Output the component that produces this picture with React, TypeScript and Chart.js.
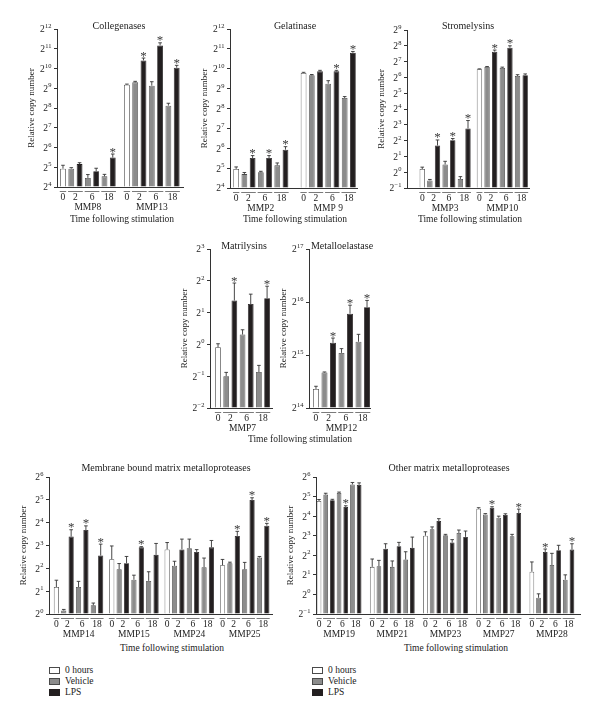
import React, { useEffect, useRef } from 'react';
import { Chart, registerables } from 'chart.js';

Chart.register(...registerables);

const SERIF = "'Liberation Serif', 'DejaVu Serif', serif";

// Shared labels
const TIME_POINTS = ['0', '2', '6', '18'];
const CONDITIONS = ['0 hours', 'Vehicle', 'LPS'];
const Y_TITLE = 'Relative copy number';
const X_TITLE = 'Time following stimulation';
// Bar order within each gene: 0 h, 2 h vehicle, 2 h LPS, 6 h vehicle, 6 h LPS, 18 h vehicle, 18 h LPS
// Values are log2 of relative copy number (axis shows 2^n)

const COLLAGENASE_GENES = ['MMP8', 'MMP13'];
const COLLAGENASE_LOG2 = [
  [4.93, 4.93, 5.16, 4.46, 4.8, 4.54, 5.49],
  [9.18, 9.3, 10.41, 9.13, 11.17, 8.12, 10.04],
];
const COLLAGENASE_ERR = [
  [0.17, 0.05, 0.07, 0.17, 0.15, 0.1, 0.18],
  [0.03, 0.05, 0.12, 0.2, 0.13, 0.12, 0.12],
];
const COLLAGENASE_SIG = [
  [0, 0, 0, 0, 0, 0, 1],
  [0, 0, 1, 0, 1, 0, 1],
];

const GELATINASE_GENES = ['MMP2', 'MMP 9'];
const GELATINASE_LOG2 = [
  [4.96, 4.7, 5.51, 4.79, 5.51, 5.14, 5.93],
  [9.79, 9.67, 9.87, 9.25, 9.87, 8.53, 10.8],
];
const GELATINASE_ERR = [
  [0.1, 0.08, 0.12, 0.05, 0.12, 0.12, 0.15],
  [0.03, 0.04, 0.05, 0.15, 0.05, 0.07, 0.07],
];
const GELATINASE_SIG = [
  [0, 0, 1, 0, 1, 0, 1],
  [0, 0, 0, 0, 1, 0, 1],
];

const STROMELYSIN_GENES = ['MMP3', 'MMP10'];
const STROMELYSIN_LOG2 = [
  [0.2, -0.52, 1.69, 0.49, 2.03, -0.43, 2.77],
  [6.52, 6.66, 7.63, 6.6, 7.88, 6.09, 6.14],
];
const STROMELYSIN_ERR = [
  [0.12, 0.06, 0.35, 0.2, 0.1, 0.15, 0.5],
  [0.02, 0.03, 0.1, 0.05, 0.12, 0.08, 0.08],
];
const STROMELYSIN_SIG = [
  [0, 0, 1, 0, 1, 0, 1],
  [0, 0, 1, 0, 1, 0, 0],
];

const MATRILYSIN_GENES = ['MMP7'];
const MATRILYSIN_LOG2 = [[-0.09, -1.0, 1.38, 0.31, 1.27, -0.87, 1.45]];
const MATRILYSIN_ERR = [[0.11, 0.12, 0.55, 0.15, 0.31, 0.21, 0.38]];
const MATRILYSIN_SIG = [[0, 0, 1, 0, 0, 0, 1]];

const ELASTASE_GENES = ['MMP12'];
const ELASTASE_LOG2 = [[14.36, 14.67, 15.23, 15.04, 15.78, 15.25, 15.9]];
const ELASTASE_ERR = [[0.05, 0.01, 0.09, 0.08, 0.16, 0.14, 0.13]];
const ELASTASE_SIG = [[0, 0, 1, 0, 1, 0, 1]];

const MEMBRANE_GENES = ['MMP14', 'MMP15', 'MMP24', 'MMP25'];
const MEMBRANE_LOG2 = [
  [1.18, 0.15, 3.39, 1.18, 3.68, 0.38, 2.56],
  [2.4, 1.96, 2.22, 1.5, 2.92, 1.45, 2.59],
  [2.83, 2.11, 2.83, 2.88, 2.72, 2.05, 2.92],
  [2.14, 2.22, 3.42, 1.96, 4.99, 2.47, 3.87],
];
const MEMBRANE_ERR = [
  [0.3, 0.05, 0.3, 0.25, 0.18, 0.1, 0.5],
  [0.58, 0.25, 0.3, 0.2, 0.03, 0.4, 0.5],
  [0.3, 0.2, 0.45, 0.4, 0.1, 0.4, 0.3],
  [0.25, 0.05, 0.2, 0.3, 0.1, 0.05, 0.1],
];
const MEMBRANE_SIG = [
  [0, 0, 1, 0, 1, 0, 1],
  [0, 0, 0, 0, 1, 0, 0],
  [0, 0, 0, 0, 0, 0, 0],
  [0, 0, 1, 0, 1, 0, 1],
];

const OTHER_GENES = ['MMP19', 'MMP21', 'MMP23', 'MMP27', 'MMP28'];
const OTHER_LOG2 = [
  [4.77, 5.1, 4.81, 5.18, 4.47, 5.62, 5.6],
  [1.41, 1.44, 2.34, 1.41, 2.46, 1.78, 2.38],
  [3.0, 3.33, 3.75, 3.02, 2.65, 3.14, 2.94],
  [4.38, 4.09, 4.43, 3.92, 4.06, 2.97, 4.16],
  [1.16, -0.17, 2.17, 1.5, 2.26, 0.75, 2.29],
];
const OTHER_ERR = [
  [0.08, 0.07, 0.05, 0.05, 0.06, 0.1, 0.1],
  [0.4, 0.3, 0.25, 0.3, 0.2, 0.4, 0.55],
  [0.2, 0.12, 0.12, 0.05, 0.15, 0.15, 0.3],
  [0.05, 0.04, 0.05, 0.08, 0.06, 0.1, 0.2],
  [0.5, 0.2, 0.15, 0.6, 0.25, 0.25, 0.3],
];
const OTHER_SIG = [
  [0, 0, 0, 0, 1, 0, 0],
  [0, 0, 0, 0, 0, 0, 0],
  [0, 0, 0, 0, 0, 0, 0],
  [0, 0, 1, 0, 0, 0, 1],
  [0, 0, 1, 0, 0, 0, 1],
];

// Styles
const FILL = ['#ffffff', '#8c8c8c', '#231f20'];
const EDGE = ['#4a4a4a', '#4a4a4a', '#231f20'];
const BAR_KIND = [0, 1, 2, 1, 2, 1, 2];

const YW = 40; // y-axis box width
const PT = 16; // top padding
const PR = 4; // right padding
const XH = 28; // x-axis box height

type Panel = {
  title: string;
  genes: string[];
  values: number[][];
  errors: number[][];
  sig: number[][];
  yMin: number;
  yMax: number;
  axisX: number;
  topY: number;
  bottomY: number;
  rightX: number;
  period: number;
  padL: number;
  padR: number;
  titleDx: number;
  titleDy: number;
};

const PANELS: Panel[] = [
  { title: 'Collegenases', genes: COLLAGENASE_GENES, values: COLLAGENASE_LOG2, errors: COLLAGENASE_ERR, sig: COLLAGENASE_SIG,
    yMin: 4, yMax: 12, axisX: 57, topY: 29, bottomY: 187, rightX: 183, period: 7.7, padL: 0.72, padR: 0.76, titleDx: -1, titleDy: -3 },
  { title: 'Gelatinase', genes: GELATINASE_GENES, values: GELATINASE_LOG2, errors: GELATINASE_ERR, sig: GELATINASE_SIG,
    yMin: 4, yMax: 12, axisX: 230, topY: 29, bottomY: 188, rightX: 357, period: 8.2, padL: 0.75, padR: 0.5, titleDx: 1.5, titleDy: -3 },
  { title: 'Stromelysins', genes: STROMELYSIN_GENES, values: STROMELYSIN_LOG2, errors: STROMELYSIN_ERR, sig: STROMELYSIN_SIG,
    yMin: -1, yMax: 9, axisX: 407, topY: 30, bottomY: 188, rightX: 529, period: 7.5, padL: 2.0, padR: 0.5, titleDx: 0, titleDy: -4 },
  { title: 'Matrilysins', genes: MATRILYSIN_GENES, values: MATRILYSIN_LOG2, errors: MATRILYSIN_ERR, sig: MATRILYSIN_SIG,
    yMin: -2, yMax: 3, axisX: 210, topY: 249, bottomY: 408, rightX: 272, period: 8, padL: 0.98, padR: 0.6, titleDx: 3, titleDy: -3 },
  { title: 'Metalloelastase', genes: ELASTASE_GENES, values: ELASTASE_LOG2, errors: ELASTASE_ERR, sig: ELASTASE_SIG,
    yMin: 14, yMax: 17, axisX: 309, topY: 249, bottomY: 408, rightX: 370, period: 8, padL: 0.82, padR: 0.35, titleDx: 2.5, titleDy: -3 },
  { title: 'Membrane bound matrix metalloproteases', genes: MEMBRANE_GENES, values: MEMBRANE_LOG2, errors: MEMBRANE_ERR, sig: MEMBRANE_SIG,
    yMin: 0, yMax: 6, axisX: 49, topY: 477, bottomY: 614, rightX: 272, period: 7.5, padL: 1.0, padR: 0.7, titleDx: 5.5, titleDy: -9 },
  { title: 'Other matrix metalloproteases', genes: OTHER_GENES, values: OTHER_LOG2, errors: OTHER_ERR, sig: OTHER_SIG,
    yMin: -1, yMax: 6, axisX: 316, topY: 477, bottomY: 614, rightX: 580, period: 7.96, padL: 0.45, padR: 1.2, titleDx: 1, titleDy: -9 },
];

const X_TITLES = [
  { x: 122, y: 219 },
  { x: 295, y: 219 },
  { x: 470, y: 219 },
  { x: 300, y: 438.5 },
  { x: 172, y: 648 },
  { x: 456, y: 648 },
];

const LEGENDS = [
  { x: 49, y: 670 },
  { x: 312, y: 670 },
];

function canvasRect(p: Panel) {
  return {
    left: p.axisX - YW,
    top: p.topY - PT,
    width: YW + (p.rightX - p.axisX) + PR,
    height: PT + (p.bottomY - p.topY) + XH,
  };
}

function overlayPlugin(p: Panel) {
  return {
    id: 'overlay',
    afterDatasetsDraw(chart: any) {
      const ctx = chart.ctx;
      const ys = chart.scales.y;
      const xs = chart.scales.x;
      const meta = chart.getDatasetMeta(0);
      const ds = chart.data.datasets[0] as any;
      ctx.save();
      // error bars + asterisks
      meta.data.forEach((el: any, i: number) => {
        const v = ds.data[i].y;
        const e = ds.errors[i];
        const yTop = ys.getPixelForValue(v + e);
        ctx.strokeStyle = '#333';
        ctx.lineWidth = 0.9;
        ctx.beginPath();
        ctx.moveTo(el.x, el.y);
        ctx.lineTo(el.x, yTop);
        ctx.moveTo(el.x - 1.8, yTop);
        ctx.lineTo(el.x + 1.8, yTop);
        ctx.stroke();
        if (ds.sig[i]) {
          ctx.fillStyle = '#3a3a3a';
          ctx.font = `13px ${SERIF}`;
          ctx.textAlign = 'center';
          ctx.textBaseline = 'alphabetic';
          ctx.fillText('*', el.x, yTop + 1.5);
        }
      });
      // group underlines and labels
      const base = chart.chartArea.bottom;
      const hw = meta.data.length ? meta.data[0].width / 2 : 2;
      ctx.strokeStyle = '#7a7a7a';
      ctx.lineWidth = 1;
      ctx.fillStyle = '#222';
      ctx.font = `9.5px ${SERIF}`;
      ctx.textAlign = 'center';
      ctx.textBaseline = 'middle';
      p.genes.forEach((gene, g) => {
        const px = (j: number) => xs.getPixelForValue(g * p.period + j);
        const spans: [number, number][] = [[0, 0], [1, 2], [3, 4], [5, 6]];
        spans.forEach(([a, b], k) => {
          const x1 = px(a) - hw - 0.3;
          const x2 = px(b) + hw + 0.3;
          ctx.beginPath();
          ctx.moveTo(x1, base + 4.5);
          ctx.lineTo(x2, base + 4.5);
          ctx.stroke();
          ctx.fillText(TIME_POINTS[k], (px(a) + px(b)) / 2, base + 10.5);
        });
        ctx.fillText(gene, px(3), base + 20);
      });
      // y tick labels 2^n
      ctx.textAlign = 'left';
      ctx.textBaseline = 'alphabetic';
      ys.ticks.forEach((t: any) => {
        const py = ys.getPixelForValue(t.value);
        const exp = String(Math.round(t.value)).replace('-', '\u2212');
        ctx.font = `6.5px ${SERIF}`;
        const ew = ctx.measureText(exp).width;
        ctx.font = `9.5px ${SERIF}`;
        const bw = ctx.measureText('2').width;
        const right = chart.chartArea.left - 5.5;
        ctx.fillText('2', right - ew - bw - 0.3, py + 3.4);
        ctx.font = `6.5px ${SERIF}`;
        ctx.fillText(exp, right - ew, py - 1);
      });
      // panel title
      ctx.font = `10px ${SERIF}`;
      ctx.textAlign = 'center';
      ctx.textBaseline = 'middle';
      ctx.fillText(p.title, (chart.chartArea.left + chart.chartArea.right) / 2 + p.titleDx, chart.chartArea.top + p.titleDy);
      ctx.restore();
    },
  };
}

function makeChart(canvas: HTMLCanvasElement, p: Panel) {
  const data: { x: number; y: number }[] = [];
  const errors: number[] = [];
  const sig: number[] = [];
  const bg: string[] = [];
  const bd: string[] = [];
  p.genes.forEach((_, g) => {
    p.values[g].forEach((v, j) => {
      data.push({ x: g * p.period + j, y: v });
      errors.push(p.errors[g][j]);
      sig.push(p.sig[g][j]);
      bg.push(FILL[BAR_KIND[j]]);
      bd.push(EDGE[BAR_KIND[j]]);
    });
  });
  const nG = p.genes.length;
  return new Chart(canvas, {
    type: 'bar',
    data: {
      datasets: [
        {
          data,
          errors,
          sig,
          backgroundColor: bg,
          borderColor: bd,
          borderWidth: 0.8,
          base: p.yMin,
          categoryPercentage: 1,
          barPercentage: 0.7,
        } as any,
      ],
    },
    options: {
      animation: false,
      responsive: false,
      maintainAspectRatio: false,
      layout: { padding: { top: PT, right: PR, left: 0, bottom: 0 } },
      plugins: { legend: { display: false }, tooltip: { enabled: false } },
      scales: {
        x: {
          type: 'linear',
          min: -p.padL,
          max: (nG - 1) * p.period + 6 + p.padR,
          offset: false,
          grid: { display: false },
          border: { display: true, color: '#333', width: 1 },
          ticks: { display: false },
          afterFit: (s: any) => {
            s.height = XH;
          },
        },
        y: {
          type: 'linear',
          min: p.yMin,
          max: p.yMax,
          ticks: { display: false, stepSize: 1 },
          grid: { drawOnChartArea: false, drawTicks: true, tickLength: 3, color: '#333' },
          border: { display: true, color: '#333', width: 1 },
          title: {
            display: true,
            text: Y_TITLE,
            color: '#222',
            font: { family: SERIF, size: 9 },
            padding: { top: 9, bottom: 0 },
          },
          afterFit: (s: any) => {
            s.width = YW;
          },
        },
      },
    } as any,
    plugins: [overlayPlugin(p)],
  });
}

const textStyle: React.CSSProperties = {
  position: 'absolute',
  fontFamily: SERIF,
  fontSize: '9.5px',
  color: '#222',
  whiteSpace: 'nowrap',
  lineHeight: '11px',
};

export default function App() {
  const refs = useRef<(HTMLCanvasElement | null)[]>([]);

  useEffect(() => {
    const charts = PANELS.map((p, i) => makeChart(refs.current[i] as HTMLCanvasElement, p));
    return () => charts.forEach((c) => c.destroy());
  }, []);

  return (
    <div style={{ position: 'absolute', left: 0, top: 0, width: 600, height: 718, background: '#fff', overflow: 'hidden' }}>
      {PANELS.map((p, i) => {
        const r = canvasRect(p);
        return (
          <canvas
            key={p.title}
            ref={(el) => {
              refs.current[i] = el;
            }}
            width={r.width}
            height={r.height}
            style={{ position: 'absolute', left: r.left, top: r.top, width: r.width, height: r.height }}
          />
        );
      })}
      {X_TITLES.map((t, i) => (
        <div key={i} style={{ ...textStyle, left: t.x, top: t.y, transform: 'translate(-50%, -50%)' }}>
          {X_TITLE}
        </div>
      ))}
      {LEGENDS.map((l, li) =>
        CONDITIONS.map((c, k) => (
          <div key={`${li}-${k}`} style={{ ...textStyle, left: l.x, top: l.y + k * 11 - 5.5, height: 11 }}>
            <span
              style={{
                position: 'absolute',
                left: 0,
                top: 2.5,
                width: 9,
                height: 5,
                background: FILL[k],
                border: `1px solid ${EDGE[k]}`,
              }}
            />
            <span style={{ position: 'absolute', left: 16, top: 0 }}>{c}</span>
          </div>
        ))
      )}
    </div>
  );
}
